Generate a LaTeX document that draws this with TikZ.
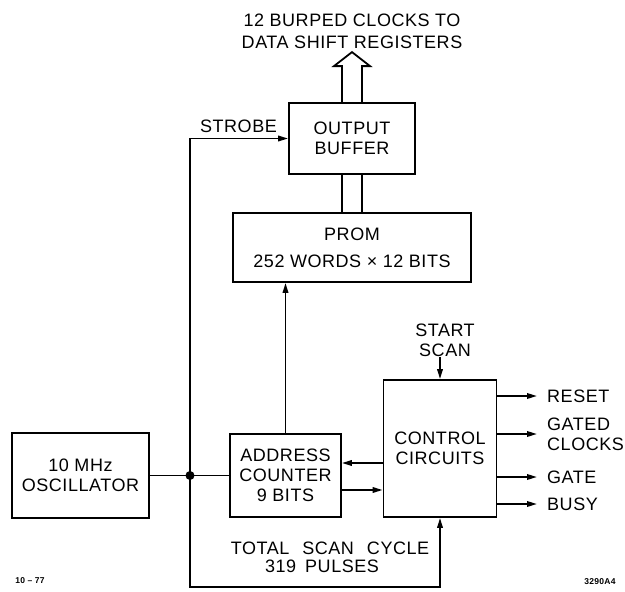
\documentclass[tikz,border=0pt]{standalone}
\usepackage{fontspec}
\setmainfont{Liberation Sans}[LetterSpace=3]
\usetikzlibrary{arrows.meta,calc}
\begin{document}
\begin{tikzpicture}[x=1pt,y=-1pt,
  box/.style={draw, line width=1.8pt, inner sep=0pt, align=center, font=\fontsize{18}{20}\selectfont},
  lbl/.style={font=\fontsize{18}{20}\selectfont, align=center, inner sep=0pt},
  wire/.style={line width=1.8pt},
  arr/.style={wire, -{Triangle[length=10pt,width=5.5pt]}},
  foot/.style={font=\bfseries\fontsize{8.5}{9}\selectfont, inner sep=0pt}
]
\useasboundingbox (0,0) rectangle (625,592);
% boxes
\node[box, minimum width=137pt, minimum height=85pt] (osc) at (80.5,475.5) {10 MHz\\OSCILLATOR};
\node[box, minimum width=111pt, minimum height=83pt] (addr) at (285.5,475.5) {ADDRESS\\COUNTER\\9 BITS};
\node[box, minimum width=113pt, minimum height=137pt] (ctrl) at (440,448.5) {CONTROL\\CIRCUITS};
\node[box, minimum width=238pt, minimum height=69pt] (prom) at (352,247.5) {PROM\\[7pt]252 WORDS × 12 BITS};
\node[box, minimum width=126pt, minimum height=71pt] (buf) at (352,138.5) {OUTPUT\\BUFFER};
% labels
\node[lbl, font=\fontsize{18}{22}\selectfont] (title) at (352,31) {12 BURPED CLOCKS TO\\DATA SHIFT REGISTERS};
\node[lbl] (strobe) at (238.5,126) {STROBE};
\node[lbl] (start) at (445,340) {START\\SCAN};
\node[lbl] (total) at (330,548) {TOTAL\hspace{13pt}SCAN\hspace{13pt}CYCLE};
\node[lbl] (pulses) at (322,566) {319\hspace{9pt}PULSES};
\node[lbl, anchor=west, inner xsep=10pt, align=left] (reset) at (537,396) {RESET};
\node[lbl, anchor=west, inner xsep=10pt, align=left] (gated) at (537,434) {GATED\\CLOCKS};
\node[lbl, anchor=west, inner xsep=10pt, align=left] (gate) at (537,477) {GATE};
\node[lbl, anchor=west, inner xsep=10pt, align=left] (busy) at (537,504) {BUSY};
\node[foot] (date) at (30,581) {10 – 77};
\node[foot] (code) at (600,582) {3290A4};
% junction
\coordinate (j) at (190,475.5);
\fill (j) circle (4.5pt);
\coordinate (lb) at (190,587);
\coordinate (r1) at (0,463);
\coordinate (r2) at (0,490);
% wires
\draw[wire] (osc.east) -- (addr.west);
\draw[arr] (j) -- (j |- buf.west) -- (buf.west);
\draw[arr] (j) -- (lb) -| (ctrl.south);
\draw[arr] (addr.north) -- (addr.north |- prom.south);
\draw[arr] (ctrl.west |- r1) -- (addr.east |- r1);
\draw[arr] (addr.east |- r2) -- (ctrl.west |- r2);
\draw[arr] (start.south -| ctrl.north) -- (ctrl.north);
\draw[arr] (ctrl.east |- reset.west) -- (reset.west);
\draw[arr] (ctrl.east |- gated.west) -- (gated.west);
\draw[arr] (ctrl.east |- gate.west) -- (gate.west);
\draw[arr] (ctrl.east |- busy.west) -- (busy.west);
% bus
\draw[wire] ($(prom.north)+(-10,0)$) -- ($(buf.south)+(-10,0)$);
\draw[wire] ($(prom.north)+(10,0)$) -- ($(buf.south)+(10,0)$);
\draw[wire, line join=miter] ($(buf.north)+(-10,0)$) -- ++(0,-36) -- ++(-8,0) -- ($(buf.north)+(0,-50)$) -- ($(buf.north)+(18,-36)$) -- ++(-8,0) -- ($(buf.north)+(10,0)$);
\end{tikzpicture}
\end{document}
